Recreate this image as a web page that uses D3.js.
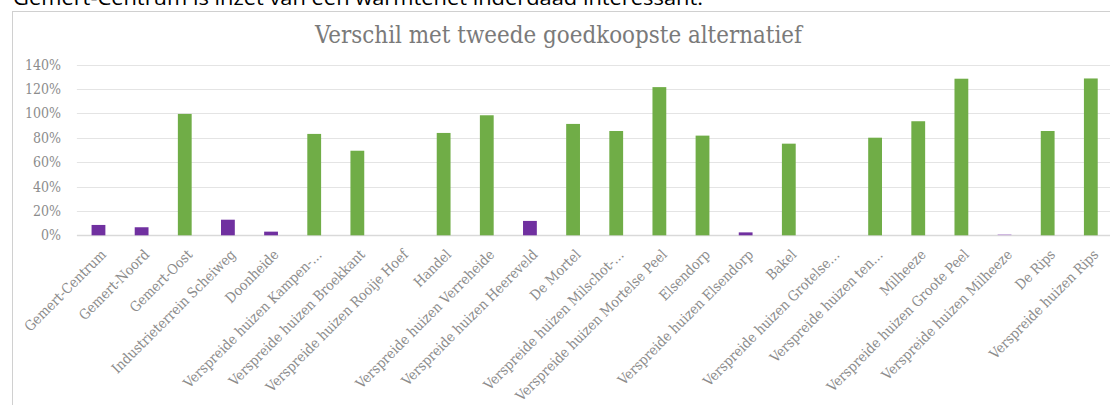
<!DOCTYPE html>
<html lang="nl">
<head>
<meta charset="utf-8">
<title>Verschil met tweede goedkoopste alternatief</title>
<script src="https://cdn.jsdelivr.net/npm/d3@7/dist/d3.min.js"></script>
<style>
  html, body { margin: 0; padding: 0; background: #fff; }
  svg { display: block; }
  .slab { font-family: 'DejaVu Serif Condensed', 'DejaVu Serif', serif; font-stretch: condensed; }
</style>
</head>
<body>
<svg id="chart" width="1110" height="405"></svg>
<script>
// Buurten en kernen
const categorieen = [
  "Gemert-Centrum", "Gemert-Noord", "Gemert-Oost", "Industrieterrein Scheiweg",
  "Doonheide", "Verspreide huizen Kampen-…", "Verspreide huizen Broekkant",
  "Verspreide huizen Rooije Hoef", "Handel", "Verspreide huizen Verreheide",
  "Verspreide huizen Heereveld", "De Mortel", "Verspreide huizen Milschot-…",
  "Verspreide huizen Mortelse Peel", "Elsendorp", "Verspreide huizen Elsendorp",
  "Bakel", "Verspreide huizen Grotelse…", "Verspreide huizen ten…", "Milheeze",
  "Verspreide huizen Groote Peel", "Verspreide huizen Milheeze", "De Rips",
  "Verspreide huizen Rips"
];

// Verschil met tweede goedkoopste alternatief (fractie)
const verschil = [
  0.085, 0.066, 0.996, 0.128,
  0.030, 0.832, 0.694,
  0, 0.840, 0.985,
  0.118, 0.914, 0.856,
  1.216, 0.818, 0.024,
  0.752, 0, 0.801, 0.936,
  1.285, 0.010, 0.856,
  1.287
];

// Kleurgroep per staaf
const groep = [
  "paars", "paars", "groen", "paars",
  "paars", "groen", "groen",
  "groen", "groen", "groen",
  "paars", "groen", "groen",
  "groen", "groen", "paars",
  "groen", "groen", "groen", "groen",
  "groen", "lichtpaars", "groen",
  "groen"
];

const yTicks = [0, 0.2, 0.4, 0.6, 0.8, 1.0, 1.2, 1.4];

const kleuren = { groen: "#70ad47", paars: "#7030a0", lichtpaars: "#cdb3df" };

const svg = d3.select("#chart");
const W = 1110, H = 405;

// intro-zin boven de grafiek
svg.append("text")
  .attr("x", 13).attr("y", 5)
  .attr("font-family", "'Open Sans', sans-serif")
  .attr("font-size", 20)
  .attr("fill", "#000")
  .attr("textLength", 690)
  .attr("lengthAdjust", "spacingAndGlyphs")
  .text("Gemert-Centrum is inzet van een warmtenet inderdaad interessant.");

// kader van het grafiekgebied
svg.append("rect")
  .attr("x", 12.5).attr("y", 11.5)
  .attr("width", 1120).attr("height", 420)
  .attr("fill", "#fff")
  .attr("stroke", "#d0d0d0").attr("stroke-width", 1);

// titel
svg.append("text")
  .attr("class", "slab")
  .attr("x", 558.5).attr("y", 43)
  .attr("text-anchor", "middle")
  .attr("font-size", 24)
  .attr("fill", "#7a7a7a")
  .attr("textLength", 487)
  .attr("lengthAdjust", "spacingAndGlyphs")
  .text("Verschil met tweede goedkoopste alternatief");

const x = d3.scaleBand()
  .domain(categorieen)
  .range([76.9, 1112.4])
  .paddingInner(0.68)
  .paddingOuter(0.34);

const y = d3.scaleLinear()
  .domain([0, 1.4])
  .range([235.3, 64.7]);

// rasterlijnen
svg.append("g")
  .selectAll("line")
  .data(yTicks)
  .join("line")
  .attr("x1", 76.9).attr("x2", W)
  .attr("y1", d => Math.round(y(d)) + 0.5)
  .attr("y2", d => Math.round(y(d)) + 0.5)
  .attr("stroke", d => d === 0 ? "#d9d9d9" : "#e4e4e4")
  .attr("stroke-width", d => d === 0 ? 1.5 : 1);

// y-as labels
const yAxis = d3.axisLeft(y)
  .tickValues(yTicks)
  .tickFormat(d3.format(".0%"))
  .tickSize(0)
  .tickPadding(0);

const gy = svg.append("g")
  .attr("transform", "translate(61,0)")
  .call(yAxis);
gy.select(".domain").remove();
gy.attr("font-family", null);
gy.selectAll("text")
  .attr("class", "slab")
  .attr("font-size", 14)
  .attr("fill", "#8c8c8c");

// staven
svg.append("g")
  .selectAll("rect")
  .data(categorieen.map((c, i) => ({ c, v: verschil[i], g: groep[i] })))
  .join("rect")
  .attr("x", d => x(d.c))
  .attr("width", x.bandwidth())
  .attr("y", d => y(d.v))
  .attr("height", d => y(0) - y(d.v))
  .attr("fill", d => kleuren[d.g]);

// x-as labels, schuin onder 45 graden
const xAxis = d3.axisBottom(x).tickSize(0).tickPadding(0);
const gx = svg.append("g")
  .call(xAxis);
gx.select(".domain").remove();
gx.attr("font-family", null);
gx.selectAll(".tick")
  .attr("transform", d => `translate(${x(d) + x.bandwidth() / 2 + 5},252)`);
gx.selectAll(".tick text")
  .attr("class", "slab")
  .attr("transform", "rotate(-45)")
  .attr("text-anchor", "end")
  .attr("x", 0).attr("y", 0)
  .attr("dy", "0.35em")
  .attr("font-size", 14)
  .attr("fill", "#8c8c8c");
</script>
</body>
</html>
